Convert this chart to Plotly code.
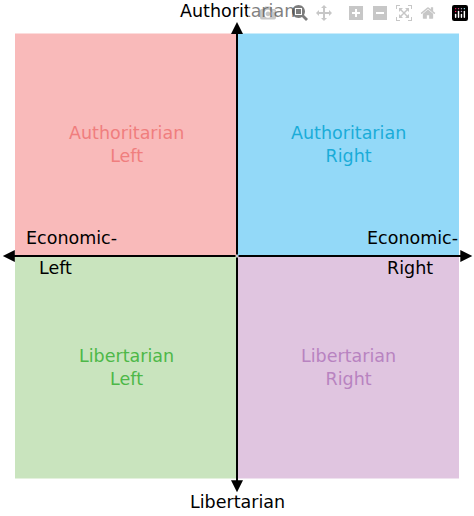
import plotly.graph_objects as go

quad_names = ["Authoritarian<br>Left", "Authoritarian<br>Right", "Libertarian<br>Left", "Libertarian<br>Right"]
quad_x0 = [-1, 0, -1, 0]
quad_x1 = [0, 1, 0, 1]
quad_y0 = [0, 0, -1, -1]
quad_y1 = [1, 1, 0, 0]
quad_fill = ["#F9BABA", "#93D9F8", "#C9E4BE", "#E0C5E0"]
quad_text = ["#F07E7E", "#1AACD8", "#4DB848", "#B883C0"]

fig = go.Figure()
for i in range(4):
    fig.add_shape(type="rect", x0=quad_x0[i], x1=quad_x1[i], y0=quad_y0[i], y1=quad_y1[i],
                  fillcolor=quad_fill[i], line_width=0, layer="below")
    fig.add_annotation(x=(quad_x0[i]+quad_x1[i])/2, y=(quad_y0[i]+quad_y1[i])/2,
                       text=quad_names[i], showarrow=False,
                       font=dict(size=17.5, color=quad_text[i], family="DejaVu Sans"))

arrow = dict(showarrow=True, arrowhead=2, arrowsize=1.2, arrowwidth=2, arrowcolor="black",
             axref="x", ayref="y", text="")
for (tx, ty) in [(1.06, 0), (-1.055, 0), (0, 1.052), (0, -1.062)]:
    fig.add_annotation(x=tx, y=ty, ax=0, ay=0, **arrow)

f = dict(size=17.5, color="black", family="DejaVu Sans")
labels = [("Authoritarian", 0, 1.1, "center"), ("Libertarian", 0, -1.105, "center"),
          ("Economic-", -0.96, 0.08, "left"), ("Left", -0.9, -0.055, "left"),
          ("Economic-", 1.003, 0.08, "right"), ("Right", 0.893, -0.055, "right")]
for t, x, y, a in labels:
    fig.add_annotation(x=x, y=y, text=t, showarrow=False, font=f, xanchor=a)

fig.update_xaxes(range=[-1.0676, 1.0676], visible=False)
fig.update_yaxes(range=[-1.1685, 1.1506], visible=False)
fig.update_layout(width=474, height=516, margin=dict(l=0, r=0, t=0, b=0),
                  plot_bgcolor="white", paper_bgcolor="white", showlegend=False)
fig.write_html("out.html", post_script="document.body.style.margin='0';")
